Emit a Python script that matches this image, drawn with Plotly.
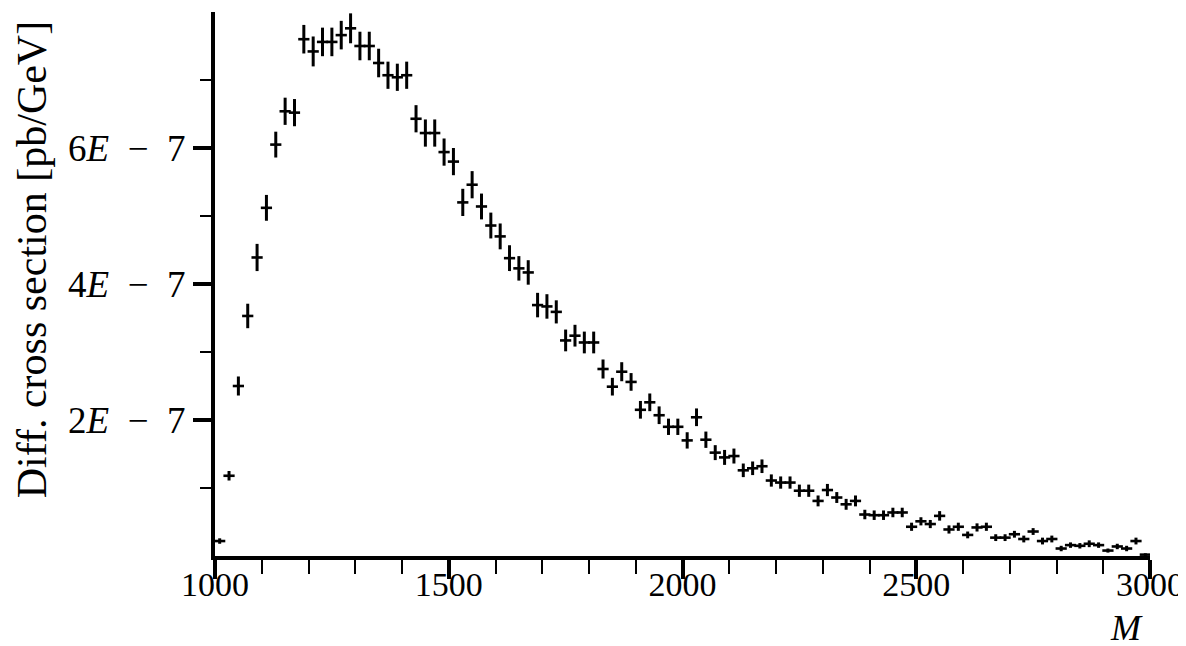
import plotly.graph_objects as go

# ---- data ----
bin_width = 20
mass_centers = list(range(1010, 3000, 20))  # M bin centres, 1000..3000 in 20 GeV bins

# differential cross section in units of 1E-7 pb/GeV
xsec_e7 = [
    0.22, 1.18, 2.50, 3.53, 4.39, 5.12, 6.05, 6.54, 6.52, 7.60,
    7.42, 7.56, 7.56, 7.66, 7.76, 7.50, 7.50, 7.25, 7.07, 7.04,
    7.07, 6.43, 6.22, 6.22, 5.94, 5.80, 5.20, 5.46, 5.14, 4.86,
    4.70, 4.38, 4.23, 4.17, 3.69, 3.67, 3.59, 3.17, 3.24, 3.14,
    3.14, 2.75, 2.49, 2.71, 2.56, 2.15, 2.26, 2.07, 1.90, 1.90,
    1.70, 2.04, 1.71, 1.52, 1.45, 1.47, 1.26, 1.29, 1.32, 1.11,
    1.08, 1.08, 0.96, 0.96, 0.81, 0.97, 0.86, 0.76, 0.81, 0.61,
    0.60, 0.60, 0.64, 0.64, 0.43, 0.51, 0.47, 0.59, 0.39, 0.43,
    0.31, 0.42, 0.43, 0.27, 0.27, 0.32, 0.25, 0.36, 0.22, 0.25,
    0.11, 0.16, 0.15, 0.18, 0.16, 0.08, 0.14, 0.11, 0.22, 0.02,
]
# statistical error (half length of vertical bar), units of 1E-7
err_e7 = [
    0.04, 0.07, 0.14, 0.18, 0.20, 0.19, 0.19, 0.20, 0.20, 0.21,
    0.22, 0.21, 0.21, 0.21, 0.22, 0.21, 0.21, 0.21, 0.20, 0.20,
    0.20, 0.20, 0.20, 0.20, 0.20, 0.20, 0.20, 0.20, 0.19, 0.19,
    0.19, 0.19, 0.18, 0.18, 0.18, 0.18, 0.17, 0.16, 0.16, 0.16,
    0.16, 0.14, 0.13, 0.14, 0.13, 0.13, 0.13, 0.13, 0.12, 0.12,
    0.12, 0.13, 0.12, 0.11, 0.11, 0.11, 0.10, 0.10, 0.10, 0.09,
    0.09, 0.09, 0.09, 0.09, 0.08, 0.09, 0.08, 0.08, 0.08, 0.07,
    0.07, 0.07, 0.07, 0.07, 0.06, 0.06, 0.06, 0.07, 0.06, 0.06,
    0.05, 0.06, 0.06, 0.05, 0.05, 0.05, 0.05, 0.05, 0.05, 0.05,
    0.04, 0.04, 0.04, 0.05, 0.04, 0.03, 0.04, 0.04, 0.05, 0.02,
]

x_tickvals = [1000, 1500, 2000, 2500, 3000]
x_ticktext = ["1000", "1500", "2000", "2500", "3000"]
y_tickvals_e7 = [2, 4, 6]
y_ticktext = ["2<i>E</i>\u2002\u2212\u20027", "4<i>E</i>\u2002\u2212\u20027", "6<i>E</i>\u2002\u2212\u20027"]
y_minor_e7 = [1, 3, 5, 7]

scale = 1e-7
xsec = [v * scale for v in xsec_e7]
err = [e * scale for e in err_e7]

FONT = "Liberation Serif"

fig = go.Figure()
fig.add_trace(go.Scatter(
    x=mass_centers,
    y=xsec,
    mode="markers",
    marker=dict(size=1, color="black", opacity=0),
    error_x=dict(type="constant", value=bin_width * 0.6, width=0, thickness=2.6, color="black"),
    error_y=dict(type="data", array=err, width=0, thickness=3, color="black"),
    showlegend=False,
))

fig.update_layout(
    width=1186, height=646,
    margin=dict(l=207, r=44, t=4, b=98),
    paper_bgcolor="white", plot_bgcolor="white",
    font=dict(family=FONT, color="black", size=34),
    xaxis=dict(
        range=[1000, 3000],
        showline=True, linewidth=4, linecolor="black",
        showgrid=False, zeroline=False,
        tickmode="array", tickvals=x_tickvals, ticktext=x_ticktext,
        ticks="outside", ticklen=19, tickwidth=4, tickcolor="black",
        ticklabelstandoff=-24,
        minor=dict(dtick=100, tick0=1000, ticks="outside", ticklen=14, tickwidth=2, tickcolor="black", showgrid=False),
        tickfont=dict(family=FONT, size=34, color="black"),
    ),
    yaxis=dict(
        range=[0, 8 * scale],
        showline=True, linewidth=4, linecolor="black",
        showgrid=False, zeroline=False,
        tickmode="array", tickvals=[v * scale for v in y_tickvals_e7], ticktext=y_ticktext,
        ticks="outside", ticklen=18, tickwidth=3.5, tickcolor="black",
        minor=dict(tickmode="array", tickvals=[v * scale for v in y_minor_e7], ticks="outside",
                   ticklen=11, tickwidth=2, tickcolor="black", showgrid=False),
        tickfont=dict(family=FONT, size=37, color="black"),
    ),
    annotations=[
        dict(text="<i>M</i>", xref="paper", yref="paper", x=0.995, y=-0.133,
             xanchor="right", yanchor="middle", showarrow=False,
             font=dict(family=FONT, size=36, color="black")),
        dict(text="Diff. cross section [pb/GeV]", xref="paper", yref="paper",
             x=-0.196, y=0.545, xanchor="center", yanchor="middle", textangle=-90,
             showarrow=False, font=dict(family=FONT, size=42, color="black")),
    ],
)

fig.write_html("out.html")
